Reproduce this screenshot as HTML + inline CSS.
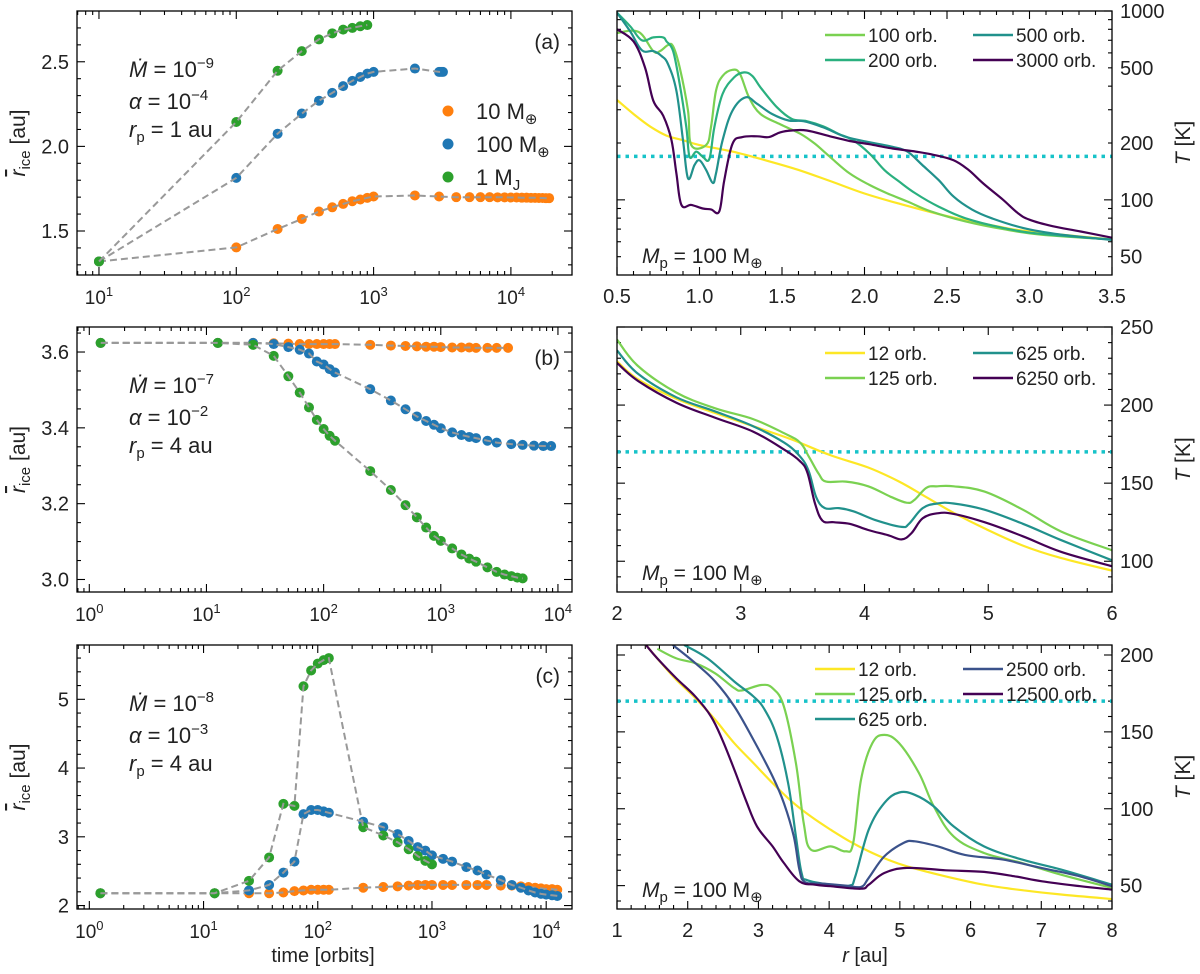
<!DOCTYPE html>
<html><head><meta charset="utf-8"><style>
body{margin:0;background:#fff}
svg{display:block;font-family:"Liberation Sans","DejaVu Sans",sans-serif}
</style></head><body>
<svg id="fig" width="1200" height="974" viewBox="0 0 1200 974" xmlns="http://www.w3.org/2000/svg"></svg>
<script>
// ---------- Panel (a) left: r_ice vs time ----------
const aGreenT=[10,100,200,300,400,500,600,700,800,900];
const aGreenV=[1.32,2.144,2.447,2.563,2.632,2.668,2.69,2.70,2.71,2.717];
const aBlueT=[10,100,200,300,400,500,600,700,800,900,1000,2000,3000,3100,3200];
const aBlueV=[1.32,1.814,2.075,2.194,2.27,2.316,2.356,2.387,2.41,2.43,2.44,2.46,2.44,2.44,2.44];
const aOrangeT=[10,100,200,300,400,500,600,700,800,900,1000,2000,3000,4000,5000,6000,7000,8000,9000,10000,11000,12000,13000,14000,15000,16000,17000,18000,19000];
const aOrangeV=[1.32,1.403,1.512,1.571,1.615,1.64,1.66,1.676,1.686,1.696,1.704,1.71,1.704,1.70,1.70,1.70,1.70,1.699,1.699,1.698,1.698,1.697,1.697,1.696,1.696,1.695,1.695,1.694,1.694];
// ---------- Panel (b) left ----------
const bGreenT=[1.25,12.5,25,37.5,50,62.5,75,87.5,100,112.5,125,250,375,500,625,750,875,1000,1250,1500,1750,2000,2500,3000,3500,4000,4500,5000];
const bGreenV=[3.624,3.624,3.619,3.59,3.536,3.493,3.454,3.421,3.397,3.379,3.366,3.286,3.236,3.196,3.164,3.137,3.115,3.102,3.082,3.066,3.055,3.047,3.032,3.02,3.013,3.009,3.005,3.003];
const bBlueT=[1.25,12.5,25,37.5,50,62.5,75,87.5,100,112.5,125,250,375,500,625,750,875,1000,1250,1500,1750,2000,2500,3000,4000,5000,6250,7500,8750];
const bBlueV=[3.624,3.624,3.624,3.621,3.613,3.606,3.596,3.575,3.567,3.555,3.546,3.502,3.472,3.449,3.43,3.418,3.408,3.399,3.388,3.381,3.376,3.373,3.366,3.361,3.357,3.355,3.353,3.352,3.352];
const bOrangeT=[1.25,12.5,25,37.5,50,62.5,75,87.5,100,112.5,125,250,375,500,625,750,875,1000,1250,1500,1750,2000,2500,3000,3750];
const bOrangeV=[3.624,3.624,3.624,3.623,3.622,3.621,3.621,3.621,3.621,3.621,3.621,3.619,3.617,3.616,3.615,3.614,3.614,3.613,3.612,3.612,3.612,3.611,3.611,3.611,3.611];
// ---------- Panel (c) left ----------
const cGreenT=[1.25,12.5,25,37.5,50,62.5,75,87.5,100,112.5,125,250,375,500,625,750,875,1000];
const cGreenV=[2.18,2.18,2.36,2.70,3.48,3.45,5.19,5.42,5.52,5.57,5.60,3.14,3.02,2.92,2.82,2.72,2.65,2.60];
const cBlueT=[1.25,12.5,25,37.5,50,62.5,75,87.5,100,112.5,125,250,375,500,625,750,875,1000,1250,1500,2000,2500,3000,4000,5000,6000,7000,8000,9000,10000,11250,12500];
const cBlueV=[2.18,2.18,2.22,2.30,2.48,2.64,3.33,3.39,3.39,3.37,3.35,3.22,3.14,3.04,2.94,2.85,2.80,2.73,2.68,2.64,2.56,2.51,2.45,2.37,2.30,2.26,2.22,2.19,2.17,2.16,2.15,2.14];
const cOrangeT=[1.25,12.5,25,37.5,50,62.5,75,87.5,100,112.5,125,250,375,500,625,750,875,1000,1250,1500,2000,2500,3000,4000,5000,6000,7000,8000,9000,10000,11250,12500];
const cOrangeV=[2.18,2.18,2.18,2.18,2.19,2.21,2.22,2.23,2.23,2.23,2.23,2.26,2.27,2.28,2.29,2.30,2.30,2.30,2.30,2.30,2.30,2.30,2.30,2.29,2.29,2.28,2.27,2.26,2.25,2.24,2.24,2.23];
// ---------- Right (a): T vs r, log ----------
const raYellowR=[0.5,0.6,0.7,0.8,0.9,1.0,1.2,1.4,1.6,1.8,2.0,2.2,2.5,2.8,3.0,3.5];
const raYellowT=[338,285,245,219,207,195,180,162,144,125,108,96,82,72.5,68,61.7];
const ra100R=[0.5,0.63,0.72,0.76,0.81,0.84,0.88,0.93,0.95,1.04,1.07,1.1,1.14,1.2,1.245,1.30,1.37,1.49,1.61,1.70,1.79,1.91,2.03,2.14,2.26,2.40,2.61,2.84,3.07,3.5];
const ra100T=[766,775,613,613,661,650,502,297,195,195,243,378,453,488,465,349,285,251,224,198,169,138,120,108,98,87,77,70,65.5,61.7];
const ra200R=[0.5,0.58,0.65,0.72,0.78,0.80,0.84,0.88,0.92,0.94,0.98,1.02,1.06,1.09,1.14,1.21,1.27,1.32,1.37,1.47,1.56,1.65,1.75,1.84,1.93,2.03,2.12,2.21,2.31,2.45,2.61,2.84,3.07,3.5];
const ra200T=[980,830,700,725,725,690,613,410,243,169,180,169,165,243,364,445,473,453,394,309,268,261,245,224,207,176,144,125,108,92,80,71,66,61.7];
const ra500R=[0.5,0.58,0.65,0.72,0.77,0.81,0.86,0.90,0.93,0.97,1.0,1.04,1.08,1.1,1.14,1.2,1.28,1.35,1.44,1.54,1.63,1.75,1.89,2.03,2.17,2.26,2.35,2.45,2.54,2.65,2.77,2.96,3.19,3.5];
const ra500T=[980,780,620,613,578,522,378,207,130,153,162,144,123,138,207,297,349,322,285,263,261,242,215,202,191,180,153,127,104,89,80,71,65.5,61.3];
const ra3000R=[0.5,0.60,0.67,0.72,0.78,0.83,0.86,0.89,0.95,1.02,1.07,1.12,1.15,1.2,1.26,1.35,1.42,1.49,1.56,1.65,1.79,1.91,2.03,2.17,2.31,2.42,2.54,2.63,2.72,2.84,2.93,3.0,3.14,3.31,3.5];
const ra3000T=[800,690,502,335,279,207,138,94,94,90,89,87,127,198,215,217,215,228,233,233,217,205,197,187,180,173,162,144,122,100,85,78.5,72.5,68,63];
// ---------- Right (b): T vs r, linear ----------
const rbYellowR=[2.0,2.17,2.48,2.79,3.1,3.41,3.72,4.03,4.28,4.5,4.72,4.97,5.28,5.59,6.0];
const rbYellowT=[228,216.5,204,195,186.5,178,168,160,151,141,131,121,110,102,94];
const rb125R=[2.0,2.17,2.48,2.79,3.1,3.35,3.48,3.55,3.63,3.69,3.85,4.03,4.22,4.34,4.4,4.5,4.59,4.72,4.97,5.28,5.59,6.0];
const rb125T=[242,225,208,198,191,182,176,167,156,151,151,148,141,137.5,139,147,148,148,144.6,133,119,107];
const rb625R=[2.0,2.17,2.48,2.79,3.1,3.35,3.48,3.55,3.61,3.68,3.79,3.91,4.1,4.3,4.36,4.47,4.59,4.72,4.97,5.28,5.59,6.0];
const rb625T=[235,220,205,196,186.5,176,167,157.5,141,134,134,132,126,122,124,134,137,137,133,124,113.5,100.6];
const rb6250R=[2.0,2.17,2.48,2.79,3.1,3.35,3.48,3.54,3.60,3.66,3.75,3.88,4.03,4.19,4.3,4.38,4.47,4.59,4.72,4.97,5.28,5.59,6.0];
const rb6250T=[227,215.5,201.5,192,183,171.5,164,156.4,137,126,125,124,120,116.7,114,118,127.5,130.7,130.3,125,116,106,96.8];
// ---------- Right (c): T vs r, linear ----------
const rcYellowR=[1.0,1.41,1.63,1.84,2.11,2.39,2.66,2.93,3.2,3.47,3.74,4.02,4.29,4.56,4.83,5.1,5.65,6.19,6.73,7.28,8.0];
const rcYellowT=[230,206.5,194.6,183.8,171.9,157.8,142.6,129.7,116.7,104.8,95,86.4,78.8,72.3,66.9,62.6,56,50.6,47,44.2,41.3];
const rc125R=[1.57,1.84,2.11,2.39,2.66,2.77,3.04,3.2,3.36,3.53,3.64,3.74,4.02,4.23,4.34,4.45,4.61,4.78,4.99,5.27,5.48,5.76,6.19,6.73,7.28,8.0];
const rc125T=[204,197.8,194.6,188,178.4,177,180.5,178.4,166.5,129.7,90.7,73.4,75.5,72.3,77.7,118.8,142.6,148,142.6,123.2,101.5,82,71.2,64.7,57.1,48.5];
const rc625R=[1.95,2.28,2.66,2.93,3.09,3.26,3.42,3.53,3.61,3.69,4.02,4.29,4.37,4.56,4.78,4.99,5.21,5.48,5.76,6.19,6.73,7.28,8.0];
const rc625T=[206.5,197.8,182.7,173,164.3,147,116.7,82,58.2,53.5,50.6,50,56,86.4,103.7,110.6,109.1,101.5,88.5,75.5,66.9,60.4,50.6];
const rc2500R=[1.79,2.11,2.39,2.66,2.93,3.2,3.36,3.5,3.58,3.66,3.91,4.23,4.45,4.56,4.78,5.05,5.21,5.54,5.92,6.46,7.0,7.55,8.0];
const rc2500T=[206.5,194.6,182.7,166.5,144.8,121,103.7,82,60.4,52.2,51.3,50,49.2,55,69,77.7,78.8,75.5,70,66.9,61.5,56,49.6];
const rc12500R=[1.0,1.41,1.57,1.84,2.11,2.33,2.49,2.66,2.82,2.98,3.2,3.36,3.58,3.8,4.02,4.45,4.56,4.78,5.1,5.65,6.19,6.63,7.01,7.55,8.0];
const rc12500T=[230,206.5,197.8,184.8,172.9,160,144.8,125.3,105.8,88.5,75.5,64.7,52.8,50.6,49.6,48,50.6,58.2,61.5,60,58.9,56,52.8,49.6,47.4];

const svg=document.getElementById('fig');
const NS='http://www.w3.org/2000/svg';
function mk(tag,attrs,parent,txt){const e=document.createElementNS(NS,tag);for(const k in attrs)e.setAttribute(k,attrs[k]);if(txt!==undefined)e.textContent=txt;(parent||svg).appendChild(e);return e;}

function linS(d0,d1,r0,r1){return v=>r0+(v-d0)/(d1-d0)*(r1-r0);}
function logS(d0,d1,r0,r1){return v=>r0+(Math.log10(v)-Math.log10(d0))/(Math.log10(d1)-Math.log10(d0))*(r1-r0);}
function smoothPath(P){
  let d='M'+P[0][0].toFixed(1)+','+P[0][1].toFixed(1);
  for(let i=0;i<P.length-1;i++){
    const p0=P[Math.max(0,i-1)],p1=P[i],p2=P[i+1],p3=P[Math.min(P.length-1,i+2)];
    const t=0.18;
    const c1x=p1[0]+(p2[0]-p0[0])*t,c1y=p1[1]+(p2[1]-p0[1])*t;
    const c2x=p2[0]-(p3[0]-p1[0])*t,c2y=p2[1]-(p3[1]-p1[1])*t;
    d+=' C'+c1x.toFixed(1)+','+c1y.toFixed(1)+' '+c2x.toFixed(1)+','+c2y.toFixed(1)+' '+p2[0].toFixed(1)+','+p2[1].toFixed(1);
  }
  return d;
}

const LX0=77,LX1=572,RX0=617,RX1=1112;
const ROWS=[[11,275],[327,592],[645,909]];

function frame(g,x0,x1,y0,y1){
  const r=mk('rect',{x:x0,y:y0,width:x1-x0,height:y1-y0,fill:'none',stroke:'#000','stroke-width':1.3},g);
  
  
}
function tick(g,x1,y1,x2,y2){mk('line',{x1:x1,y1:y1,x2:x2,y2:y2,stroke:'#000','stroke-width':1.1},g);}
function xTicks(g,sx,majors,minors,y0,y1,labelFn){
  majors.forEach(v=>{const x=sx(v);tick(g,x,y1,x,y1-8);tick(g,x,y0,x,y0+8);});
  minors.forEach(v=>{const x=sx(v);tick(g,x,y1,x,y1-4);tick(g,x,y0,x,y0+4);});
  majors.forEach(v=>labelFn(sx(v),v));
}
function yTicks(g,sy,majors,minors,x0,x1){
  majors.forEach(v=>{const y=sy(v);tick(g,x0,y,x0+8,y);tick(g,x1,y,x1-8,y);});
  minors.forEach(v=>{const y=sy(v);tick(g,x0,y,x0+4,y);tick(g,x1,y,x1-4,y);});
}
function range(a,b,s){const o=[];for(let v=a;v<=b+1e-9;v+=s)o.push(+v.toFixed(6));return o;}
function logMinors(e0,e1){const o=[];for(let e=e0;e<=e1;e++)for(let m=2;m<=9;m++)o.push(m*Math.pow(10,e));return o;}

function powLabel(g,x,y,e){
  const t=mk('text',{x:x,y:y,'text-anchor':'middle','font-size':19,fill:'#222'},g);
  mk('tspan',{},t,'10');mk('tspan',{dy:-8,'font-size':13},t,String(e));
  
  
}

// ===== Left panels =====
const leftPanels=[
 {name:'a',xd:[Math.pow(10,0.84),Math.pow(10,4.445)],yd:[1.24,2.80],ymaj:[1.5,2.0,2.5],ymin:range(1.3,2.8,0.1),yfmt:v=>v.toFixed(1),
  decs:[1,2,3,4],minE:[0,4],series:[[aOrangeT,aOrangeV,'#ff7f0e','orange-10me'],[aBlueT,aBlueV,'#1f77b4','blue-100me'],[aGreenT,aGreenV,'#2ca02c','green-1mj']],
  tag:'(a)',md:'−9',al:'−4',rp:'1'},
 {name:'b',xd:[Math.pow(10,-0.105),Math.pow(10,4.12)],yd:[2.967,3.666],ymaj:[3.0,3.2,3.4,3.6],ymin:range(3.0,3.65,0.05),yfmt:v=>v.toFixed(1),
  decs:[0,1,2,3,4],minE:[-1,3],series:[[bOrangeT,bOrangeV,'#ff7f0e','orange-10me'],[bBlueT,bBlueV,'#1f77b4','blue-100me'],[bGreenT,bGreenV,'#2ca02c','green-1mj']],
  tag:'(b)',md:'−7',al:'−2',rp:'4'},
 {name:'c',xd:[Math.pow(10,-0.108),Math.pow(10,4.226)],yd:[1.95,5.79],ymaj:[2,3,4,5],ymin:range(2,5.8,0.2),yfmt:v=>String(v),
  decs:[0,1,2,3,4],minE:[-1,4],series:[[cOrangeT,cOrangeV,'#ff7f0e','orange-10me'],[cBlueT,cBlueV,'#1f77b4','blue-100me'],[cGreenT,cGreenV,'#2ca02c','green-1mj']],
  tag:'(c)',md:'−8',al:'−3',rp:'4'}
];
leftPanels.forEach((p,i)=>{
  const [y0,y1]=ROWS[i];
  const g=mk('g',{});
  
  
  const sx=logS(p.xd[0],p.xd[1],LX0,LX1), sy=linS(p.yd[0],p.yd[1],y1,y0);
  const minors=logMinors(p.minE[0],p.minE[1]).filter(v=>v>p.xd[0]&&v<p.xd[1]);
  const majors=p.decs.map(e=>Math.pow(10,e));
  xTicks(g,sx,majors,minors,y0,y1,(x,v)=>powLabel(g,x,y1+29,Math.round(Math.log10(v))));
  yTicks(g,sy,p.ymaj,p.ymin.filter(v=>v>p.yd[0]&&v<p.yd[1]&&!p.ymaj.includes(v)),LX0,LX1);
  p.ymaj.forEach(v=>{const t=mk('text',{x:LX0-8,y:sy(v)+7,'text-anchor':'end','font-size':20,fill:'#222'},g,p.yfmt(v));
    });
  p.series.forEach(([T,V,col,nm])=>{
    const sg=mk('g',{},g);
    
    
    T.forEach((t,k)=>{const c=mk('circle',{cx:sx(t),cy:sy(V[k]),r:5,fill:col},sg);
      });
    const pts=T.map((t,k)=>sx(t).toFixed(1)+','+sy(V[k]).toFixed(1)).join(' ');
    const l=mk('polyline',{points:pts,fill:'none',stroke:'#999','stroke-width':2,'stroke-dasharray':'7,4'},sg);
    
  });
  frame(g,LX0,LX1,y0,y1);
  const ag=mk('g',{'font-size':22,fill:'#222'},g);
  
  
  const t1=mk('text',{x:129,y:y0+66},ag);
  mk('tspan',{'font-style':'italic'},t1,'M\u0307');mk('tspan',{},t1,' = 10');mk('tspan',{dy:-9,'font-size':15},t1,p.md);
  const t2=mk('text',{x:129,y:y0+98},ag);
  mk('tspan',{'font-style':'italic'},t2,'α');mk('tspan',{},t2,' = 10');mk('tspan',{dy:-9,'font-size':15},t2,p.al);
  const t3=mk('text',{x:129,y:y0+126},ag);
  mk('tspan',{'font-style':'italic'},t3,'r');mk('tspan',{dy:5,'font-size':15},t3,'p');mk('tspan',{dy:-5},t3,' = '+p.rp+' au');
  const tg=mk('text',{x:560,y:y0+38,'text-anchor':'end','font-size':21,fill:'#222'},g,p.tag);
  
  const yl=mk('text',{transform:`translate(25,${(y0+y1)/2}) rotate(-90)`,'text-anchor':'middle','font-size':21,fill:'#222'},g);
  mk('tspan',{'font-style':'italic','text-decoration':'overline'},yl,'r');mk('tspan',{dy:5,'font-size':15},yl,'ice');mk('tspan',{dy:-5},yl,'  [au]');
  
});
const legItems=[['#ff7f0e','10 M','⊕'],['#1f77b4','100 M','⊕'],['#2ca02c','1 M','J']];
const lg=mk('g',{});


legItems.forEach(([c,t,s],k)=>{
  const y=111+k*33;
  const e=mk('g',{},lg);
  
  
  mk('circle',{cx:448,cy:y,r:5.5,fill:c},e);
  const tx=mk('text',{x:476,y:y+8,'font-size':22,fill:'#222'},e);
  mk('tspan',{},tx,t);mk('tspan',{dy:5,'font-size':15},tx,s);
});
const xt=mk('text',{x:323,y:962,'text-anchor':'middle','font-size':20,fill:'#222'},svg,'time [orbits]');


// ===== Right panels =====
const rightPanels=[
 {name:'a',log:true,xd:[0.5,3.5],yd:[40,1000],xmaj:range(0.5,3.5,0.5),xmin:range(0.5,3.5,0.1),xfmt:v=>v.toFixed(1),
  ymaj:[100,1000],ymin:[50,60,70,80,90,200,300,400,500,600,700,800,900],ylab:[50,100,200,500,1000],
  curves:[[raYellowR,raYellowT,'#fde725'],[ra100R,ra100T,'#7ad151'],[ra200R,ra200T,'#2ab07f'],[ra500R,ra500T,'#21918c'],[ra3000R,ra3000T,'#440154']],
  leg:[[0,'#7ad151','100 orb.'],[1,'#2ab07f','200 orb.'],[2,'#21918c','500 orb.'],[3,'#440154','3000 orb.']],legY:35,legX:825},
 {name:'b',log:false,xd:[2,6],yd:[80.3,250],xmaj:[2,3,4,5,6],xmin:range(2,6,0.2),xfmt:v=>String(v),
  ymaj:[100,150,200,250],ymin:range(90,250,10),ylab:[100,150,200,250],
  curves:[[rbYellowR,rbYellowT,'#fde725'],[rb125R,rb125T,'#7ad151'],[rb625R,rb625T,'#21918c'],[rb6250R,rb6250T,'#440154']],
  leg:[[0,'#fde725','12 orb.'],[1,'#7ad151','125 orb.'],[2,'#21918c','625 orb.'],[3,'#440154','6250 orb.']],legY:353,legX:825},
 {name:'c',log:false,xd:[1,8],yd:[34.8,206.5],xmaj:[1,2,3,4,5,6,7,8],xmin:range(1,8,0.2),xfmt:v=>String(v),
  ymaj:[50,100,150,200],ymin:range(40,200,10),ylab:[50,100,150,200],
  curves:[[rcYellowR,rcYellowT,'#fde725'],[rc125R,rc125T,'#7ad151'],[rc625R,rc625T,'#21918c'],[rc2500R,rc2500T,'#3b528b'],[rc12500R,rc12500T,'#440154']],
  leg:[[0,'#fde725','12 orb.'],[1,'#7ad151','125 orb.'],[2,'#21918c','625 orb.'],[3,'#3b528b','2500 orb.'],[4,'#440154','12500 orb.']],legY:669,legX:815,cols3:true}
];
rightPanels.forEach((p,i)=>{
  const [y0,y1]=ROWS[i];
  const g=mk('g',{});
  
  
  const sx=linS(p.xd[0],p.xd[1],RX0,RX1);
  const sy=p.log?logS(p.yd[0],p.yd[1],y1,y0):linS(p.yd[0],p.yd[1],y1,y0);
  const clipId='clip'+i;
  const cp=mk('clipPath',{id:clipId},g);mk('rect',{x:RX0,y:y0,width:RX1-RX0,height:y1-y0},cp);
  xTicks(g,sx,p.xmaj,p.xmin.filter(v=>!p.xmaj.some(m=>Math.abs(m-v)<1e-6)),y0,y1,(x,v)=>{
    const t=mk('text',{x:x,y:y1+28,'text-anchor':'middle','font-size':20,fill:'#222'},g,p.xfmt(v));
    });
  yTicks(g,sy,p.ymaj,p.ymin.filter(v=>v>p.yd[0]&&v<p.yd[1]&&!p.ymaj.includes(v)),RX0,RX1);
  p.ylab.forEach(v=>{const t=mk('text',{x:RX1+8,y:sy(v)+7,'font-size':20,fill:'#222'},g,String(v));
    });
  const cg=mk('g',{'clip-path':`url(#${clipId})`},g);
  const dl=mk('line',{x1:RX0,x2:RX1,y1:sy(170),y2:sy(170),stroke:'#17c3c9','stroke-width':3.5,'stroke-dasharray':'3.5,5'},cg);
  
  p.curves.forEach(([R,T,col])=>{
    const P=R.map((r,k)=>[sx(r),sy(T[k])]);
    const l=mk('path',{d:smoothPath(P),fill:'none',stroke:col,'stroke-width':2.2,'stroke-linejoin':'round'},cg);
    
  });
  frame(g,RX0,RX1,y0,y1);
  const lg=mk('g',{},g);
  
  
  p.leg.forEach(([k,col,txt])=>{
    let col_i,row;
    if(p.cols3){col_i=(k===3||k===4)?1:0;row=k<3?k:k-3;}else{col_i=k>>1;row=k&1;}
    const lx=p.legX+col_i*148, ly=p.legY+row*25;
    const e=mk('g',{},lg);
    
    
    mk('line',{x1:lx,x2:lx+40,y1:ly,y2:ly,stroke:col,'stroke-width':2.4},e);
    mk('text',{x:lx+43,y:ly+7,'font-size':19,fill:'#222'},e,txt);
  });
  const mt=mk('text',{x:642,y:y1-12,'font-size':21,fill:'#222'},g);
  mk('tspan',{'font-style':'italic'},mt,'M');mk('tspan',{dy:5,'font-size':15},mt,'p');mk('tspan',{dy:-5},mt,' = 100 M');mk('tspan',{dy:5,'font-size':15},mt,'⊕');
  
  const yl=mk('text',{transform:`translate(1190,${(y0+y1)/2}) rotate(-90)`,'text-anchor':'middle','font-size':21,fill:'#222'},g);
  mk('tspan',{'font-style':'italic'},yl,'T');mk('tspan',{},yl,' [K]');
  
});
const rt=mk('text',{x:865,y:962,'text-anchor':'middle','font-size':20,fill:'#222'});
mk('tspan',{'font-style':'italic'},rt,'r');mk('tspan',{},rt,'  [au]');

</script>
</body></html>
